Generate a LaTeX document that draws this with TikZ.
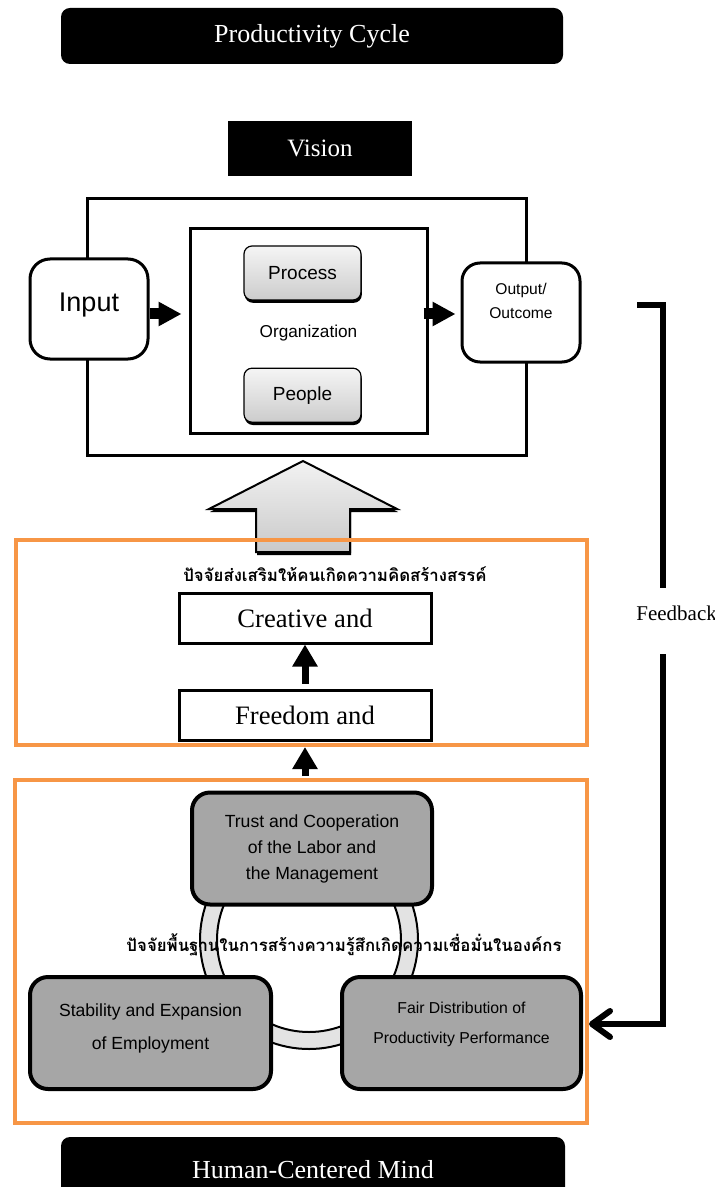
\documentclass[tikz,border=0pt]{standalone}
\usepackage{fontspec}
\setmainfont{Liberation Serif}
\setsansfont{Liberation Sans}
\newfontfamily\thaifont[Script=Thai]{Loma}
\usetikzlibrary{positioning,arrows.meta,shadows}
\definecolor{orng}{HTML}{F79646}
\definecolor{boxgray}{HTML}{A6A6A6}
\tikzset{
  blackbar/.style={rectangle, rounded corners=4.5pt, fill=black, text=white, minimum width=251pt, minimum height=28pt, font=\fontsize{13}{15}\selectfont},
  framebox/.style={rectangle, draw=black, line width=1.5pt},
  iobox/.style={rectangle, rounded corners=10pt, draw=black, line width=1.5pt, fill=white, minimum width=59pt, minimum height=50pt, align=center},
  stepbox/.style={rectangle, rounded corners=4pt, draw=black, line width=0.6pt, top color=gray!8, bottom color=gray!40, drop shadow={shadow xshift=0.4pt, shadow yshift=-1.4pt, fill=black, opacity=1}, minimum width=58.5pt, minimum height=27pt, font=\sffamily\fontsize{9.5}{11}\selectfont},
  textbox/.style={rectangle, draw=black, line width=1.5pt, fill=white, minimum width=126pt, minimum height=25pt, font=\fontsize{13.3}{15}\selectfont},
  orangebox/.style={rectangle, draw=orng, line width=2pt},
  factor/.style={rectangle, rounded corners=9pt, draw=black, line width=2pt, fill=boxgray, minimum width=120pt, minimum height=56pt, align=center, font=\sffamily\fontsize{8.8}{13}\selectfont},
  thai/.style={font=\thaifont\bfseries\fontsize{8.4}{10}\selectfont, inner sep=0pt},
  blockarr/.style={line width=5.5pt, -{Triangle[length=11.5pt, width=11.5pt]}},
  smallarr/.style={line width=3.5pt, -{Triangle[length=11pt, width=12pt]}},
  fbline/.style={line width=3pt},
  bigarrow/.style={draw=black, line width=1pt, top color=gray!10, bottom color=gray!42, drop shadow={shadow xshift=0.5pt, shadow yshift=-1.5pt, fill=black, opacity=1}}
}
\begin{document}
\begin{tikzpicture}[x=0.5pt,y=-0.5pt]
  \useasboundingbox (0,0) rectangle (715,1187);
  % top bars
  \node[blackbar] (cycle) at (312,36) {Productivity Cycle};
  \node[blackbar, rounded corners=0pt, minimum width=92pt, minimum height=27.5pt, font=\fontsize{12.5}{15}\selectfont] (vision) at (320,148.5) {Vision};
  % organization block
  \node[framebox, minimum width=219.5pt, minimum height=128pt] (frame) at (306.5,327) {};
  \node[framebox, minimum width=118.5pt, minimum height=102pt, text depth=0pt, font=\sffamily\fontsize{8.6}{10}\selectfont] (org) at (308.5,331) {Organization};
  \node[iobox, text depth=6.8pt, font=\sffamily\fontsize{13.5}{15}\selectfont] (input) at (89,309) {Input};
  \node[iobox, rounded corners=9pt, minimum height=49.5pt, text depth=11.6pt, font=\sffamily\fontsize{7.8}{12}\selectfont] (output) at (521,312.5) {Output/\\Outcome};
  \node[stepbox] (process) at (302.5,273) {Process};
  \node[stepbox, below=33.5pt of process] (people) {People};
  \coordinate (inarr) at ([yshift=-2.5pt]input.east);
  \draw[blockarr, shorten >=3.5pt] (inarr) -- (inarr -| org.west);
  \draw[blockarr, shorten <=-2.5pt, shorten >=2.5pt] (inarr -| org.east) -- (inarr -| output.west);
  % big arrow up
  \draw[bigarrow] (303,461) -- (397,509) -- (350,509) -- (350,552) -- (256,552) -- (256,509) -- (209,509) -- cycle;
  % creative zone
  \node[orangebox, minimum width=285.5pt, minimum height=102.5pt] (creativezone) at (301.5,642.5) {};
  \node[thai] (creativetitle) at (335,574) {ปัจจัยส่งเสริมให้คนเกิดความคิดสร้างสรรค์};
  \node[textbox] (creative) at (305,618) {Creative and};
  \node[textbox, below=22pt of creative] (freedom) {Freedom and};
  \draw[smallarr, shorten <=2.5pt] (freedom) -- (creative);
  % trust zone
  \node[orangebox, minimum width=286pt, minimum height=171.5pt] (trustzone) at (301,951.5) {};
  \draw[smallarr, shorten <=1pt] (trustzone.north -| freedom) -- (creativezone.south -| freedom);
  \coordinate (ringc) at (309,940);
  \fill[gray!22, even odd rule] (ringc) circle[radius=54.5pt] (ringc) circle[radius=46pt];
  \draw[line width=1pt] (ringc) circle[radius=54.5pt] (ringc) circle[radius=46pt];
  \node[factor] (trust) at (312,848.5) {Trust and Cooperation\\of the Labor and\\the Management};
  \node[factor, minimum width=120.5pt, text depth=6.8pt, font=\sffamily\fontsize{8.8}{16.5}\selectfont] (stability) at (150.5,1033) {Stability and Expansion\\of Employment};
  \node[factor, minimum width=119.5pt, text depth=10.7pt, font=\sffamily\fontsize{7.9}{15}\selectfont] (fair) at (461.5,1033) {Fair Distribution of\\Productivity Performance};
  \node[thai] (trusttitle) at (344,945) {ปัจจัยพื้นฐานในการสร้างความรู้สึกเกิดความเชื่อมั่นในองค์กร};
  % feedback loop
  \coordinate (fbtop) at (637,305);
  \coordinate (fbgap1) at (663,588);
  \coordinate (fbgap2) at (663,654);
  \node[anchor=west, inner sep=0pt, font=\fontsize{10.5}{12}\selectfont] (fb) at (636,613) {Feedback};
  \draw[fbline] (fbtop) -| (fbgap1);
  \path (fair.east -| trustzone.east) ++(0,-9) coordinate (fbend);
  \draw[fbline, -{Straight Barb[length=9pt, width=13pt, round]}] (fbgap2) |- (fbend);
  % bottom bar
  \node[blackbar, minimum width=252pt, minimum height=33pt] (mind) at (313,1170) {Human-Centered Mind};
\end{tikzpicture}
\end{document}
